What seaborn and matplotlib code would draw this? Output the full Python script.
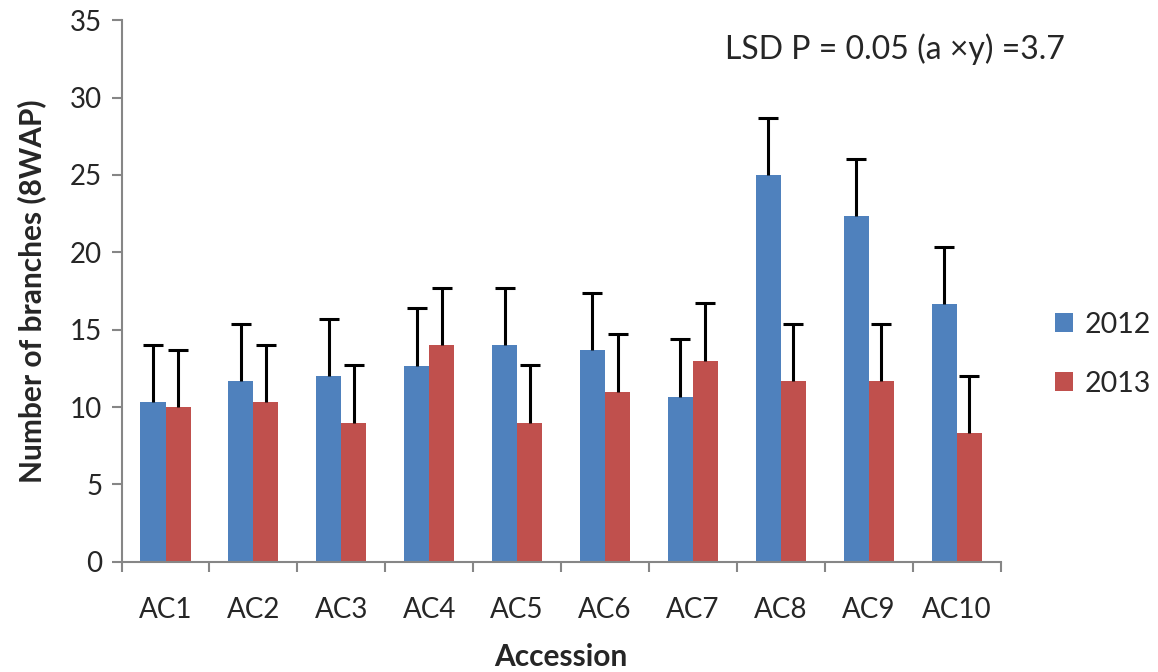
import matplotlib
matplotlib.use("Agg")
import matplotlib.pyplot as plt
from matplotlib.patches import Patch
import seaborn as sns
import pandas as pd
import numpy as np

# Branch counts per accession at 8 weeks after planting
accessions = ["AC1", "AC2", "AC3", "AC4", "AC5", "AC6", "AC7", "AC8", "AC9", "AC10"]
branches_2012 = [10.33, 11.67, 12.0, 12.67, 14.0, 13.67, 10.67, 25.0, 22.33, 16.67]
branches_2013 = [10.0, 10.33, 9.0, 14.0, 9.0, 11.0, 13.0, 11.67, 11.67, 8.33]
years = ["2012", "2013"]
lsd = 3.7
colors = ["#4F81BD", "#C0504D"]

df = pd.DataFrame({
    "Accession": accessions * 2,
    "Year": [years[0]] * len(accessions) + [years[1]] * len(accessions),
    "Branches": branches_2012 + branches_2013,
})

sns.set_theme(style="white")
plt.rcParams["font.family"] = ["Lato", "DejaVu Sans"]

fig = plt.figure(figsize=(11.58, 6.72), dpi=100)
ax = fig.add_axes([0.105, 0.164, 0.759, 0.806])

sns.barplot(data=df, x="Accession", y="Branches", hue="Year",
            palette=colors, width=0.57, errorbar=None, ax=ax,
            saturation=1, legend=False, linewidth=0)

# One-sided (upper) LSD error bars on every bar
bar_groups = list(ax.containers)
for cont in bar_groups:
    xs = [p.get_x() + p.get_width() / 2 for p in cont.patches]
    hs = [p.get_height() for p in cont.patches]
    _, caps, _ = ax.errorbar(xs, hs,
                             yerr=[np.zeros(len(hs)), np.full(len(hs), lsd)],
                             fmt="none", ecolor="black", elinewidth=2.2,
                             capsize=7.5, capthick=2.2, zorder=3)
    caps[0].set_visible(False)  # no cap at the bar top

ax.set_ylim(0, 35)
ax.set_yticks(np.arange(0, 36, 5))
ax.set_xlim(-0.5, len(accessions) - 0.5)

# Category labels between boundary ticks
ax.set_xticks(np.arange(-0.5, len(accessions), 1.0))
ax.set_xticklabels([])
ax.set_xticks(np.arange(len(accessions)), minor=True)
ax.set_xticklabels(accessions, minor=True)
ax.tick_params(axis="x", which="major", direction="out", length=7, width=1.5,
               color="#868686", bottom=True)
ax.tick_params(axis="x", which="minor", length=0, pad=25, labelsize=20)
ax.tick_params(axis="y", direction="out", length=7, width=1.5,
               color="#868686", left=True, pad=7, labelsize=20)

for side in ["top", "right"]:
    ax.spines[side].set_visible(False)
for side in ["left", "bottom"]:
    ax.spines[side].set_color("#868686")
    ax.spines[side].set_linewidth(1.5)

ax.set_xlabel("Accession", fontsize=21.5, fontweight="bold", labelpad=15)
ax.set_ylabel("Number of branches (8WAP)", fontsize=21.5, fontweight="bold",
              labelpad=17)

ax.text(0.686, 0.946, "LSD P = 0.05 (a \u00d7y) =3.7", transform=ax.transAxes,
        fontsize=23, ha="left", va="center")

handles = [Patch(facecolor=c, edgecolor="none") for c in colors]
fig.legend(handles, years, loc="center left", bbox_to_anchor=(0.911, 0.473),
           frameon=False, fontsize=20.5, handlelength=0.65, handleheight=0.65,
           labelspacing=1.15, handletextpad=0.4, borderpad=0.0,
           borderaxespad=0.0)

fig.savefig("out.png", dpi=100)
